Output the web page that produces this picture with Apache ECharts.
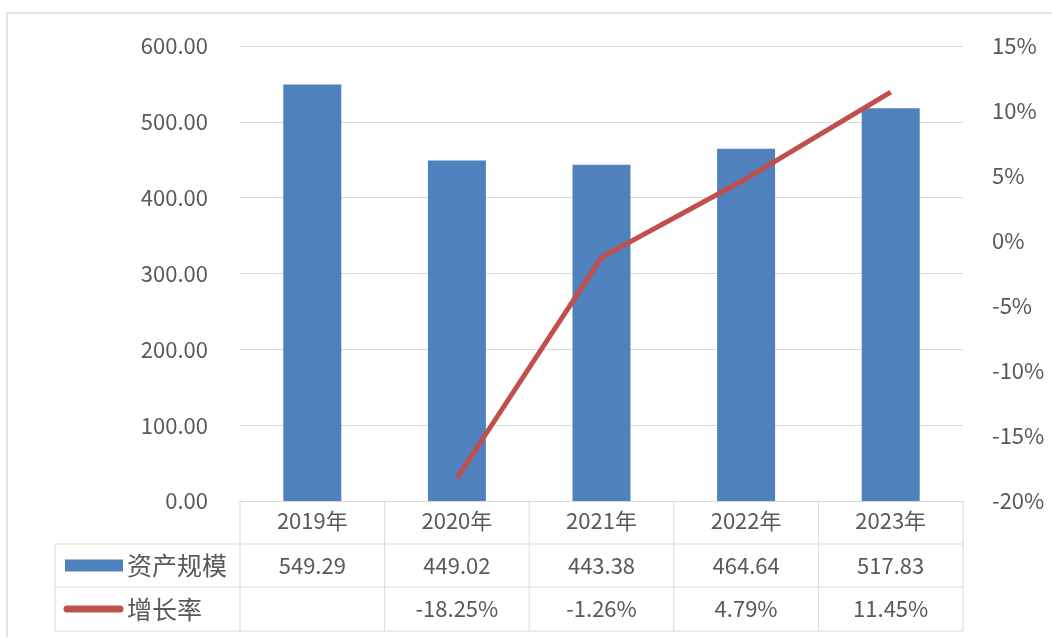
<!DOCTYPE html>
<html>
<head>
<meta charset="utf-8">
<script src="https://cdn.jsdelivr.net/npm/echarts@6/dist/echarts.min.js"></script>
<style>
  html, body { margin: 0; padding: 0; background: #fff; }
  #chart { width: 1052px; height: 639px; }
</style>
</head>
<body>
<div id="chart"></div>
<script>
// Categories and series values
const years = ['2019年', '2020年', '2021年', '2022年', '2023年'];
const assetScale = [549.29, 449.02, 443.38, 464.64, 517.83];
const growthRate = [null, -18.25, -1.26, 4.79, 11.45];
const seriesNames = ['资产规模', '增长率'];

const BLUE = '#4f81bd';
const RED = '#c0504d';
const TEXT = '#595959';
const GRID = '#d9d9d9';
const FONT = '"Noto Sans CJK SC", "Noto Sans", sans-serif';
const FS = 22;

const chart = echarts.init(document.getElementById('chart'));

const option = {
  animation: false,
  backgroundColor: '#fff',
  grid: { left: 240, right: 89, top: 46, bottom: 138 },
  xAxis: {
    type: 'category',
    data: years,
    axisLine: { show: true, lineStyle: { color: GRID, width: 1 } },
    axisTick: { show: false },
    axisLabel: { color: TEXT, fontSize: FS, fontFamily: FONT, margin: 9 }
  },
  yAxis: [
    {
      type: 'value', min: 0, max: 600, interval: 100,
      axisLine: { show: false }, axisTick: { show: false },
      splitLine: { lineStyle: { color: GRID, width: 1 } },
      axisLabel: {
        color: TEXT, fontSize: FS, fontFamily: FONT, margin: 32,
        formatter: v => v.toFixed(2)
      }
    },
    {
      type: 'value', min: -20, max: 15, interval: 5,
      axisLine: { show: false }, axisTick: { show: false },
      splitLine: { show: false },
      axisLabel: {
        color: TEXT, fontSize: FS, fontFamily: FONT, margin: 29,
        formatter: '{value}%'
      }
    }
  ],
  series: [
    {
      name: seriesNames[0], type: 'bar', data: assetScale,
      barWidth: 58, itemStyle: { color: BLUE }, yAxisIndex: 0
    },
    {
      name: seriesNames[1], type: 'line', data: growthRate,
      yAxisIndex: 1, symbol: 'none', connectNulls: false,
      lineStyle: { color: RED, width: 5 }, itemStyle: { color: RED }
    }
  ]
};

chart.setOption(option);

// Data table under the plot, laid out from the category axis
function buildTable() {
  const centers = years.map((y, i) => chart.convertToPixel({ xAxisIndex: 0 }, i));
  const step = centers[1] - centers[0];
  const left = centers[0] - step / 2;
  const right = centers[centers.length - 1] + step / 2;
  const yZero = chart.convertToPixel({ yAxisIndex: 0 }, 0);
  const row1 = yZero + 43, row2 = yZero + 86, row3 = yZero + 130;
  const tableLeft = 55;
  const line = (x1, y1, x2, y2) => ({
    type: 'line', silent: true,
    shape: { x1, y1, x2, y2 },
    style: { stroke: GRID, lineWidth: 1 }
  });
  const els = [];
  // outer frame of the chart area
  els.push({ type: 'polyline', silent: true,
    shape: { points: [[7, 637], [7, 13], [1052, 13]] },
    style: { stroke: '#d9d9d9', lineWidth: 1.5, fill: null } });
  // horizontal rules
  els.push(line(tableLeft, row1, right, row1));
  els.push(line(tableLeft, row2, right, row2));
  els.push(line(tableLeft, row3, right, row3));
  els.push(line(tableLeft, row1, tableLeft, row3));
  // vertical rules at category boundaries
  for (let i = 0; i <= years.length; i++) {
    const x = left + i * step;
    els.push(line(x, yZero, x, row3));
  }
  const txt = (x, y, s, align, size) => ({
    type: 'text', silent: true, x, y,
    style: { text: s, fill: TEXT, fontSize: size || FS, fontFamily: FONT,
      align: align || 'center', verticalAlign: 'middle' }
  });
  const midA = (row1 + row2) / 2, midB = (row2 + row3) / 2;
  // legend keys
  els.push({ type: 'rect', silent: true,
    shape: { x: 65, y: midA - 6, width: 58, height: 12 },
    style: { fill: BLUE } });
  els.push({ type: 'line', silent: true,
    shape: { x1: 67, y1: midB, x2: 120, y2: midB },
    style: { stroke: RED, lineWidth: 7, lineCap: 'round' } });
  els.push(txt(127, midA, seriesNames[0], 'left', 25));
  els.push(txt(127, midB, seriesNames[1], 'left', 25));
  centers.forEach((cx, i) => {
    els.push(txt(cx, midA, assetScale[i].toFixed(2)));
    if (growthRate[i] !== null) els.push(txt(cx, midB, growthRate[i].toFixed(2) + '%'));
  });
  chart.setOption({ graphic: els });
}
buildTable();
</script>
</body>
</html>
